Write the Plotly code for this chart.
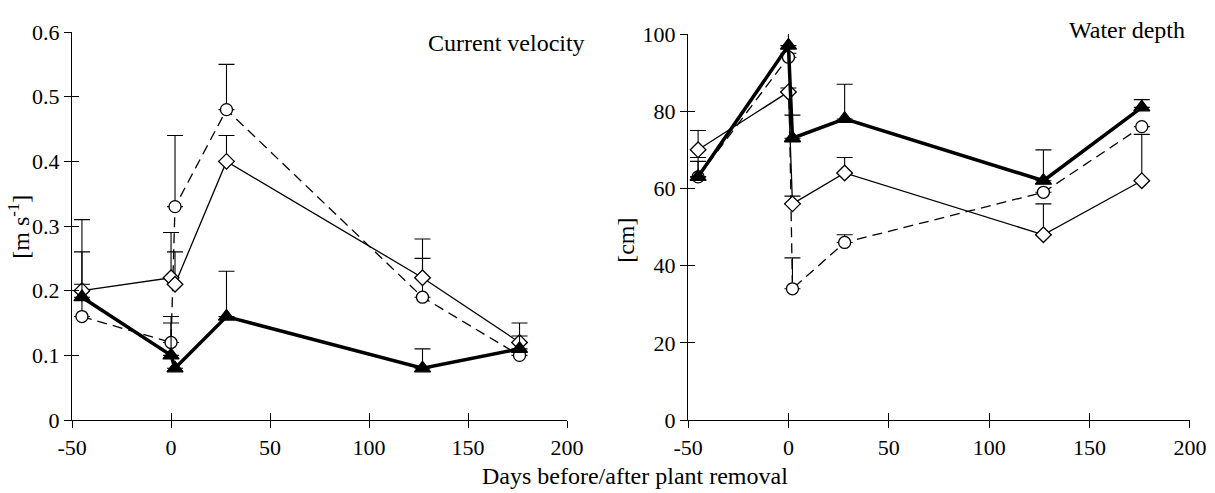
import plotly.graph_objects as go

days = [-45, 0, 2, 28, 127, 176]

# Current velocity [m s-1]
vel_circle = [0.16, 0.12, 0.33, 0.48, 0.19, 0.10]
vel_circle_err = [0.10, 0.04, 0.11, 0.07, 0.06, 0.0]
vel_diamond = [0.20, 0.22, 0.21, 0.40, 0.22, 0.12]
vel_diamond_err = [0.11, 0.07, 0.05, 0.04, 0.06, 0.03]
vel_triangle = [0.19, 0.10, 0.08, 0.16, 0.08, 0.11]
vel_triangle_err = [0.02, 0.05, 0.0, 0.07, 0.03, 0.02]

# Water depth [cm]
dep_circle = [63, 94, 34, 46, 59, 76]
dep_circle_err = [4, 1, 8, 2, 0, 0]
dep_diamond = [70, 85, 56, 64, 48, 62]
dep_diamond_err = [5, 1, 2, 4, 8, 12]
dep_triangle = [63, 97, 73, 78, 62, 81]
dep_triangle_err = [5, 5, 6, 9, 8, 2]

vel_ticks = [0, 0.1, 0.2, 0.3, 0.4, 0.5, 0.6]
vel_ticktext = ["0", "0.1", "0.2", "0.3", "0.4", "0.5", "0.6"]
dep_ticks = [0, 20, 40, 60, 80, 100]
dep_ticktext = ["0", "20", "40", "60", "80", "100"]
day_ticks = [-50, 0, 50, 100, 150, 200]
day_ticktext = ["-50", "0", "50", "100", "150", "200"]

FONT = "Liberation Serif, Times New Roman, DejaVu Serif, serif"
TICK_SIZE = 22
TEXT_SIZE = 24

fig = go.Figure()

def add_series(x, y, err, xa, ya, symbol, dash, width):
    tri = symbol == "triangle-up"
    fig.add_trace(go.Scatter(
        x=x, y=y, xaxis=xa, yaxis=ya, mode="lines+markers",
        line=dict(color="black", width=width, dash=dash),
        marker=dict(symbol=symbol, size=14 if tri else 12,
                    color="black" if tri else "white",
                    line=dict(color="black", width=1.3)),
        error_y=dict(type="data", symmetric=False, array=err,
                     arrayminus=[0] * len(err), color="black",
                     thickness=1.1, width=8),
        showlegend=False, cliponaxis=False,
    ))

DASH = "10px,6px"
add_series(days, vel_circle, vel_circle_err, "x", "y", "circle", DASH, 1.3)
add_series(days, vel_diamond, vel_diamond_err, "x", "y", "diamond", "solid", 1.3)
add_series(days, vel_triangle, vel_triangle_err, "x", "y", "triangle-up", "solid", 3.5)

add_series(days, dep_circle, dep_circle_err, "x2", "y2", "circle", DASH, 1.3)
add_series(days, dep_diamond, dep_diamond_err, "x2", "y2", "diamond", "solid", 1.3)
add_series(days, dep_triangle, dep_triangle_err, "x2", "y2", "triangle-up", "solid", 3.5)

# invisible carriers so the overlay (inner tick) axes get drawn
fig.add_trace(go.Scatter(x=days[:1], y=vel_circle[:1], xaxis="x3", yaxis="y3",
                         mode="markers", marker=dict(opacity=0), showlegend=False,
                         hoverinfo="skip"))
fig.add_trace(go.Scatter(x=days[:1], y=dep_circle[:1], xaxis="x4", yaxis="y4",
                         mode="markers", marker=dict(opacity=0), showlegend=False,
                         hoverinfo="skip"))

def outer(**kw):
    d = dict(showline=True, linecolor="black", linewidth=1.3, ticks="outside",
             ticklen=7, tickwidth=1.2, tickcolor="black", showgrid=False,
             zeroline=False, automargin=False, tickmode="array",
             tickfont=dict(family=FONT, size=TICK_SIZE, color="black"))
    d.update(kw)
    return d

def inner(**kw):
    d = dict(showline=False, ticks="inside", ticklen=7, tickwidth=1.2,
             tickcolor="black", showticklabels=False, showgrid=False,
             zeroline=False, automargin=False, tickmode="array")
    d.update(kw)
    return d

xd1 = [0.0593, 0.4667]
xd2 = [0.5663, 0.9794]
yd1 = [0.148, 0.935]
yd2 = [0.148, 0.931]

fig.update_layout(
    width=1215, height=493,
    margin=dict(l=0, r=0, t=0, b=0, pad=0, autoexpand=False),
    paper_bgcolor="white", plot_bgcolor="rgba(0,0,0,0)",
    font=dict(family=FONT, color="black", size=TICK_SIZE),
    xaxis=outer(domain=xd1, range=[-50, 200], tickvals=day_ticks, ticktext=day_ticktext, anchor="y"),
    yaxis=outer(domain=yd1, range=[0, 0.6], tickvals=vel_ticks, ticktext=vel_ticktext, anchor="x"),
    xaxis2=outer(domain=xd2, range=[-50, 200], tickvals=day_ticks, ticktext=day_ticktext, anchor="y2"),
    yaxis2=outer(domain=yd2, range=[0, 100], tickvals=dep_ticks, ticktext=dep_ticktext, anchor="x2"),
    xaxis3=inner(domain=xd1, range=[-50, 200], tickvals=day_ticks, anchor="y3", overlaying="x"),
    yaxis3=inner(domain=yd1, range=[0, 0.6], tickvals=vel_ticks, anchor="x3", overlaying="y"),
    xaxis4=inner(domain=xd2, range=[-50, 200], tickvals=day_ticks, anchor="y4", overlaying="x2"),
    yaxis4=inner(domain=yd2, range=[0, 100], tickvals=dep_ticks, anchor="x4", overlaying="y2"),
)

ann_font = dict(family=FONT, size=TEXT_SIZE, color="black")
fig.add_annotation(text="Current velocity", x=0.4831, y=0.912, xref="paper", yref="paper",
                   xanchor="right", yanchor="middle", showarrow=False, font=ann_font)
fig.add_annotation(text="Water depth", x=0.977, y=0.939, xref="paper", yref="paper",
                   xanchor="right", yanchor="middle", showarrow=False, font=ann_font)
fig.add_annotation(text="Days before/after plant removal", x=0.5226, y=0.034,
                   xref="paper", yref="paper", xanchor="center", yanchor="middle",
                   showarrow=False, font=ann_font)
fig.add_annotation(text="[m s<sup>-1</sup>]", x=0.0115, y=0.54, xref="paper", yref="paper",
                   xshift=-12, textangle=-90, showarrow=False, font=ann_font)
fig.add_annotation(text="[cm]", x=0.515, y=0.513, xref="paper", yref="paper",
                   textangle=-90, showarrow=False, font=ann_font)

fig.write_html("out.html")
